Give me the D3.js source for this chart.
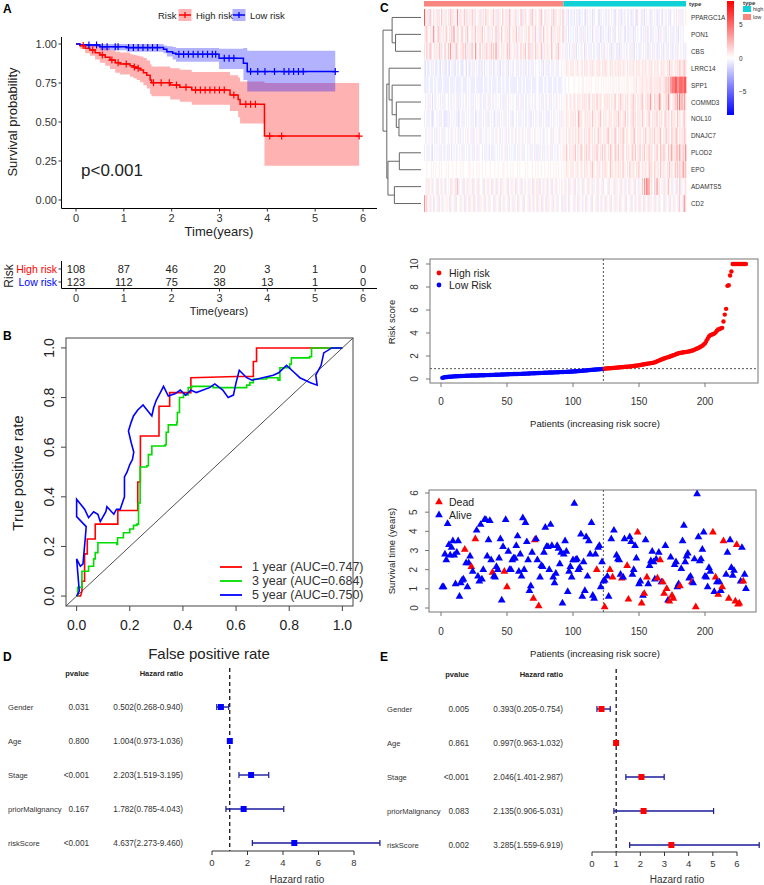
<!DOCTYPE html>
<html><head><meta charset="utf-8">
<script src="https://cdn.jsdelivr.net/npm/d3@7"></script>
<style>body{margin:0;background:#fff}svg{display:block}text{font-family:"Liberation Sans",Arial,Helvetica,sans-serif}</style>
</head><body>
<svg id="c" width="764" height="885"></svg>
<script>
// ---------------- DATA ----------------
// Panel A: Kaplan-Meier
const kmHighT  = [0,0.08,0.19,0.29,0.40,0.50,0.61,0.71,0.82,0.92,1.13,1.20,1.27,1.34,1.41,1.48,1.55,1.58,1.97,2.17,2.42,3.22,3.39,3.43,3.94,5.92];
const kmHighS  = [1,0.99,0.972,0.962,0.944,0.93,0.915,0.897,0.88,0.872,0.86,0.852,0.844,0.833,0.816,0.80,0.769,0.752,0.737,0.722,0.705,0.673,0.645,0.613,0.41,0.41];
const kmHighLo = [1,0.97,0.94,0.925,0.90,0.88,0.86,0.84,0.815,0.805,0.79,0.78,0.77,0.755,0.735,0.715,0.68,0.665,0.645,0.63,0.61,0.57,0.53,0.49,0.22,0.22];
const kmHighUp = [1,1,1,1,0.99,0.985,0.975,0.96,0.95,0.945,0.935,0.93,0.925,0.92,0.91,0.895,0.87,0.855,0.845,0.835,0.82,0.80,0.785,0.76,0.75,0.75];
const kmHighCens = [0.15,0.35,0.55,0.75,0.88,1.05,1.22,1.30,1.62,1.78,1.95,2.10,2.30,2.50,2.60,2.70,2.80,2.90,3.00,3.10,3.30,3.55,3.65,3.75,4.05,4.30,5.92];
const kmLowT   = [0,0.08,0.50,1.06,1.83,1.90,2.02,2.09,2.99,3.50,3.58,5.42];
const kmLowS   = [1,0.994,0.983,0.977,0.966,0.951,0.94,0.934,0.908,0.876,0.823,0.823];
const kmLowLo  = [1,0.982,0.96,0.95,0.94,0.92,0.90,0.887,0.84,0.77,0.695,0.695];
const kmLowUp  = [1,1,1,1,0.99,0.985,0.98,0.975,0.97,0.975,0.957,0.957];
const kmLowCens = [0.27,0.43,0.55,0.65,0.82,0.88,1.10,1.20,1.30,1.40,1.50,1.60,1.70,2.15,2.25,2.35,2.45,2.55,2.65,2.75,2.85,2.92,3.10,3.20,3.30,3.65,3.80,3.95,4.15,4.35,4.45,4.55,4.65,4.75,5.42];
const kmTicksY = [0,0.25,0.5,0.75,1];
const kmTicksX = [0,1,2,3,4,5,6];
const riskHigh = [108,87,46,20,3,1,0];
const riskLow  = [123,112,75,38,13,1,0];

// Panel B: ROC
const roc1 = [[0,0],[0.015,0],[0.02,0.02],[0.02,0.06],[0.03,0.06],[0.03,0.17],[0.04,0.17],[0.04,0.23],[0.07,0.23],[0.07,0.29],[0.155,0.29],[0.155,0.345],[0.23,0.345],[0.23,0.46],[0.24,0.46],[0.24,0.645],[0.31,0.645],[0.31,0.765],[0.35,0.765],[0.35,0.82],[0.43,0.82],[0.43,0.88],[0.5,0.882],[0.6,0.885],[0.665,0.885],[0.665,0.945],[0.677,0.945],[0.677,1.0],[1,1]];
const roc3 = [[0,0],[0.004,0],[0.004,0.035],[0.02,0.035],[0.02,0.1],[0.045,0.1],[0.045,0.12],[0.064,0.12],[0.064,0.15],[0.07,0.15],[0.07,0.175],[0.08,0.175],[0.08,0.215],[0.151,0.215],[0.151,0.208],[0.154,0.208],[0.154,0.235],[0.176,0.235],[0.176,0.255],[0.2,0.255],[0.2,0.27],[0.214,0.27],[0.214,0.285],[0.227,0.285],[0.227,0.29],[0.233,0.29],[0.233,0.375],[0.239,0.375],[0.239,0.52],[0.264,0.52],[0.264,0.525],[0.27,0.525],[0.27,0.57],[0.283,0.57],[0.283,0.605],[0.333,0.605],[0.333,0.61],[0.337,0.61],[0.337,0.66],[0.345,0.66],[0.345,0.69],[0.377,0.69],[0.377,0.7],[0.379,0.7],[0.379,0.74],[0.387,0.74],[0.387,0.8],[0.402,0.8],[0.402,0.81],[0.42,0.81],[0.42,0.84],[0.433,0.84],[0.433,0.845],[0.514,0.845],[0.514,0.84],[0.64,0.84],[0.64,0.85],[0.652,0.85],[0.652,0.86],[0.665,0.86],[0.665,0.875],[0.715,0.875],[0.715,0.88],[0.758,0.88],[0.758,0.87],[0.765,0.87],[0.765,0.92],[0.802,0.92],[0.802,0.935],[0.808,0.935],[0.808,0.96],[0.877,0.96],[0.877,0.965],[0.884,0.965],[0.884,1.0],[1,1]];
const roc5 = [[0,0],[0.01,0.02],[0,0.15],[0.014,0.12],[0.024,0.13],[0.033,0.24],[0.036,0.28],[0,0.32],[0,0.39],[0.03,0.35],[0.045,0.316],[0.064,0.34],[0.08,0.33],[0.089,0.30],[0.11,0.34],[0.114,0.36],[0.14,0.33],[0.15,0.35],[0.164,0.35],[0.18,0.40],[0.18,0.48],[0.19,0.50],[0.2,0.53],[0.21,0.55],[0.215,0.58],[0.205,0.62],[0.195,0.665],[0.205,0.70],[0.214,0.726],[0.23,0.75],[0.25,0.77],[0.265,0.75],[0.283,0.726],[0.29,0.76],[0.3,0.79],[0.315,0.82],[0.327,0.845],[0.345,0.806],[0.37,0.815],[0.39,0.83],[0.41,0.81],[0.43,0.83],[0.45,0.82],[0.5,0.84],[0.52,0.855],[0.55,0.83],[0.57,0.8],[0.59,0.81],[0.6,0.86],[0.612,0.91],[0.64,0.88],[0.66,0.87],[0.7,0.88],[0.74,0.89],[0.76,0.9],[0.79,0.93],[0.82,0.9],[0.84,0.88],[0.88,0.86],[0.905,0.85],[0.9,0.89],[0.92,0.93],[0.93,0.98],[0.96,1.0],[1,1]];
const rocNames = ["1 year (AUC=0.747)","3 year (AUC=0.684)","5 year (AUC=0.750)"];
const rocColors = ["#ff0000","#00dd00","#0000ff"];
const rocTicks = [0,0.2,0.4,0.6,0.8,1.0];

// Panel C: heatmap
const geneNames = ["PPARGC1A","PON1","CBS","LRRC14","SPP1","COMMD3","NOL10","DNAJC7","PLOD2","EPO","ADAMTS5","CD2"];
const exprLevels = [-2.5,-1.5,-1.0,-0.6,0,0.5,1.0,2.0,3.6,5.5]; // digit code -> expression z value
const geneRows = [
"9556375465 5636475356 4657365548 5365475635 6475364556 3564756455 5746365547 4565376455 6355476356 5456375465 4637546355 5463756455 6473435243 3424353243 4325343425 3443253434 2435434325 4353243543 3425343264 4335243453 3543425343 2453435244 3464353534 5",
"5675465386 4576355647 5465738456 6457546375 4565374656 5746456355 6457365475 4656375465 5746356455 6475465374 5366475465 4575364656 5473534243 4343524335 3534243425 4353423534 3425343524 4353543243 3534253434 4243535243 3534342535 4352434353 3435243434 4",
"6475376456 5647365475 4758465376 5465747365 6375486457 4656374657 5748365465 6457375546 5365474657 4576365475 6457356465 5476456375 5464353424 3535243435 4253435343 3435243536 4343525343 3525343435 4353524343 3543435253 4353425343 5243534352 4353543435 3",
"3242343534 2343243532 4324353243 3432345243 2435343425 3342434353 4234353243 3435243424 4353424353 3424353434 4343524353 3435343534 4345465546 5645565456 4656546565 5465654656 6545656465 5656465546 4655654656 5465565465 6546556456 5654657565 4656576567 6",
"3333433343 3433334333 3343333433 3334333343 4333343333 3343334334 3333433343 3433343333 3343334334 3333433334 4333343343 3334333433 3344344544 4454445445 5445454544 4545445454 5454545545 4554545455 5454555645 5565556556 6556565665 5667676889 8998899989 9",
"4343534243 3454343534 4345343453 3534345343 4353434543 3435343534 5343454343 3534345434 4353435343 3435434534 4343534354 3534343545 4345465456 4565465646 5656475465 6475565456 5656465575 4657564656 5465756465 5675465748 6547565875 4657586546 5768596858 6",
"3435343234 4343534323 3534343435 2343534343 4353423435 3434353343 4324353434 3534343524 4343534343 3435243435 4353434353 3434354343 5355465546 5656458565 4565656475 5646575465 6456564656 5756465746 5465756465 6475546575 4656574656 5476565475 6547565467 5",
"4354345343 5343453534 4345354345 3534345435 4353543453 3454354345 5343545343 4534354354 3545343545 4353454354 5434535434 4535345453 5455464565 5646557465 4656475564 6547565465 5675465576 4656576465 5465675465 6546575466 5657465675 4657565476 5676465657 6",
"3435343243 4343534334 3534243435 4343534343 3435343534 4343534243 3534343435 4353434343 3435343534 4343534353 3534353435 4353434354 5456475465 5657465576 4657475465 6576465747 5465765476 5746575465 6547657465 7465746575 6546575476 5765475685 6577586575 8",
"4454445454 5445454445 4544454454 4454544445 5445445454 4544544454 4454454445 5445445454 4454544445 4544454454 5445445445 4544545454 4545465546 5645565465 4656546575 5465654656 6545756465 5656475546 4755654657 5465565476 6547556475 5654657565 4757576586 7",
"4535645354 5364535463 4546354637 3545364535 5463545364 4536453546 3546354635 5453645354 6354536453 4535463546 5364535463 4536453545 4645354635 4536453546 3545364535 5463545364 4536454635 5453645354 6354536453 5475869784 6547385645 5364575463 4536473545 6",
"8574535463 4536453545 5463545364 4535463546 3546354635 5453645354 4635453645 3545364535 5463545364 4536453546 3546354635 5453645354 4635354634 4535463543 5463545364 4536453546 3545364535 5463545364 4536453546 3546354635 5453645354 4635453645 3545374538 6"
];
const nLow = 123, nHigh = 108;
// dendrogram merges: [childA, childB, height]; leaves are "L#", merges "M#"
const dendroMerges = [["L1","L2",6.7],["L0","M0",7.6],["L6","L7",5.8],["L5","M2",6.5],["L4","M3",7.6],["L3","M4",8.4],["L8","L9",5.7],["L10","L11",7.0],["M6","M7",8.7],["M5","M8",9.0],["M1","M9",10]];

// Risk score curve
const riskScores = [
0.10,0.13,0.15,0.17,0.18,0.19,0.20,0.21,0.22,0.23,
0.24,0.24,0.25,0.25,0.26,0.26,0.27,0.27,0.28,0.28,
0.29,0.29,0.30,0.30,0.30,0.31,0.31,0.31,0.32,0.32,
0.32,0.33,0.33,0.34,0.34,0.34,0.35,0.35,0.36,0.36,
0.37,0.37,0.37,0.38,0.38,0.39,0.39,0.40,0.40,0.41,
0.41,0.42,0.42,0.42,0.43,0.43,0.44,0.44,0.45,0.45,
0.45,0.46,0.46,0.47,0.47,0.48,0.48,0.49,0.49,0.50,
0.50,0.51,0.51,0.52,0.52,0.53,0.53,0.54,0.54,0.55,
0.55,0.56,0.56,0.57,0.57,0.58,0.58,0.59,0.59,0.60,
0.60,0.61,0.61,0.62,0.62,0.63,0.63,0.64,0.65,0.65,
0.66,0.67,0.68,0.69,0.70,0.71,0.72,0.73,0.74,0.75,
0.76,0.77,0.78,0.79,0.80,0.81,0.82,0.83,0.84,0.85,
0.86,0.87,0.88,
0.90,0.91,0.92,0.93,0.94,0.95,0.96,
0.97,0.98,0.99,1.00,1.01,1.02,1.03,1.04,1.05,1.06,
1.07,1.08,1.09,1.10,1.12,1.13,1.15,1.16,1.18,1.20,
1.22,1.24,1.26,1.28,1.30,1.32,1.34,1.36,1.38,1.40,
1.42,1.45,1.50,1.55,1.60,1.65,1.70,1.74,1.78,1.82,
1.86,1.90,1.94,1.98,2.02,2.06,2.10,2.15,2.20,2.24,
2.26,2.28,2.30,2.32,2.34,2.36,2.38,2.40,2.43,2.46,
2.50,2.55,2.60,2.65,2.70,2.76,2.82,2.90,3.00,3.10,
3.30,3.50,3.70,3.80,3.85,3.90,3.95,4.05,4.20,4.30,
4.35,4.40,4.45,5.00,5.60,6.10,8.10,8.15,9.00,9.35,
10,10,10,10,10,10,10,10,10,10,10];
const riskCutoff = 0.9;

// Survival status scatter: [patient, years, dead(1)/alive(0)]
const survPoints = [
[1,1.1,0],[2,1.1,0],[3,2.8,0],[4,2.5,0],[5,4.4,0],[6,3.3,0],[7,2.75,0],[8,3.15,0],[9,3.5,0],[10,2.75,0],[11,1.25,0],[12,2.9,0],[13,3.5,0],[14,0.6,0],[15,1.3,0],[16,1.45,0],[17,1.5,0],[18,3.05,1],[19,2.35,0],[20,1.1,0],[21,2.35,0],[22,2.7,0],[23,2.15,1],[24,1.9,0],[26,3.6,1],[27,4.05,0],[28,1.65,0],[29,1.4,0],[30,4.35,0],[31,1.5,0],[32,2.0,0],[33,4.6,0],[34,4.6,0],[35,2.7,0],[36,3.55,0],[37,4.55,0],[38,2.5,0],[39,1.85,1],[40,1.65,0],[41,1.6,0],[42,2.15,0],[43,2.0,0],[44,2.6,0],[45,3.6,0],[46,0.4,0],[47,3.2,0],[48,1.9,1],[49,4.6,0],[50,1.1,1],[51,2.95,0],[52,2.0,0],[53,2.0,0],[54,2.5,0],[55,2.6,0],[56,2.6,0],[57,3.25,0],[58,3.75,0],[59,1.9,0],[60,2.8,0],[61,1.65,0],[62,4.7,0],[63,2.0,0],[64,4.45,0],[65,3.45,0],[66,2.5,0],[67,0.9,0],[68,1.15,0],[69,2.9,0],[70,0.5,1],[71,3.55,1],[72,3.6,0],[73,2.5,0],[74,0.1,1],[75,1.6,0],[76,2.2,0],[77,2.15,0],[78,2.9,0],[79,4.2,0],[80,3.2,0],[81,3.2,0],[82,2.0,0],[83,4.35,0],[84,3.25,0],[85,1.6,0],[86,1.3,0],[87,1.8,0],[88,3.25,0],[89,3.1,0],[90,2.3,0],[91,2.9,0],[92,0.25,0],[93,2.8,0],[94,3.5,0],[95,2.95,0],[96,0.85,0],[97,1.9,0],[98,2.15,0],[99,1.6,0],[100,2.5,0],[101,5.45,0],[102,2.5,0],[103,2.55,0],[104,2.0,0],[105,2.1,0],[106,3.85,0],[107,0.6,0],[108,2.4,0],[109,0.9,0],[110,3.7,0],[111,1.65,0],[112,3.5,0],[113,2.8,0],[114,4.45,0],[115,0.65,0],[116,0.5,0],[117,2.8,0],[118,2.0,1],[119,3.15,0],[120,3.25,0],[121,1.1,0],[122,2.4,0],[123,1.4,0],
[124,1.45,0],[124,0.05,1],[126,1.65,0],[127,0.6,0],[128,2.0,1],[129,3.6,0],[130,1.6,1],[131,4.05,0],[133,2.75,0],[134,2.55,0],[135,2.5,0],[136,1.75,0],[137,1.55,1],[138,1.6,0],[139,3.6,0],[141,2.2,1],[142,0.45,1],[143,3.7,0],[144,3.45,0],[145,1.75,0],[146,2.0,0],[147,3.25,0],[148,2.6,0],[149,3.95,1],[150,1.25,0],[151,1.4,0],[152,0.25,1],[153,0.65,0],[154,0.75,1],[155,3.55,0],[156,1.6,1],[157,1.25,0],[158,2.2,0],[159,2.45,0],[160,2.95,0],[161,2.4,0],[162,1.5,0],[163,2.55,0],[164,1.55,1],[165,2.9,0],[166,2.5,1],[167,1.35,0],[168,1.35,1],[169,0.75,1],[170,3.25,0],[171,1.0,1],[172,0.4,0],[173,0.35,1],[174,2.65,0],[175,0.65,1],[176,0.5,1],[177,2.25,0],[178,2.4,0],[179,1.1,0],[180,1.25,0],[181,1.15,1],[182,2.05,0],[183,3.5,0],[184,4.3,0],[185,2.4,0],[186,2.7,0],[187,2.85,0],[188,1.55,0],[189,1.65,0],[190,1.35,1],[191,1.3,0],[192,2.55,0],[193,0.05,1],[194,5.95,0],[195,3.7,0],[196,2.45,0],[197,2.55,0],[198,3.05,0],[199,3.95,0],[200,1.65,0],[201,1.6,0],[202,1.1,0],[203,2.1,0],[204,1.9,0],[206,3.95,1],[207,0.85,0],[208,1.6,1],[209,1.35,0],[210,0.7,1],[211,1.35,0],[212,0.9,0],[213,1.1,1],[214,3.5,1],[216,1.75,0],[217,2.9,0],[218,0.5,1],[219,3.55,0],[220,2.1,0],[221,1.7,0],[222,1.95,0],[223,0.35,1],[224,3.3,1],[225,0.2,1],[226,0.25,1],[227,1.4,0],[228,3.15,0],[229,1.4,1],[230,1.75,0],[231,1.0,0]];

// Panels D/E: forest plots
const fLabels = ["Gender","Age","Stage","priorMalignancy","riskScore"];
const uniP  = ["0.031","0.800","<0.001","0.167","<0.001"];
const uniHR = [0.502,1.004,2.203,1.782,4.637];
const uniLo = [0.268,0.973,1.519,0.785,2.273];
const uniHi = [0.940,1.036,3.195,4.043,9.460];
const multiP  = ["0.005","0.861","<0.001","0.083","0.002"];
const multiHR = [0.393,0.997,2.046,2.135,3.285];
const multiLo = [0.205,0.963,1.401,0.906,1.559];
const multiHi = [0.754,1.032,2.987,5.031,6.919];

// ---------------- DRAW ----------------
const svg = d3.select("#c");
function T(g,x,y,s,o={}){
  const t = g.append("text").attr("x",x).attr("y",y).text(s)
    .attr("font-size",o.size||10).attr("fill",o.fill||"#222")
    .attr("text-anchor",o.anchor||"start").attr("dominant-baseline",o.base||"central");
  if(o.weight) t.attr("font-weight",o.weight);
  if(o.rot) t.attr("transform",`rotate(${o.rot},${x},${y})`);
  return t;
}
// panel letters
[["A",3,9],["B",3,336],["C",380,8],["D",3,657],["E",380,657]].forEach(([l,x,y])=>T(svg,x,y,l,{size:12,weight:"bold",fill:"#000"}));

// ===== Panel A =====
{
  const g = svg.append("g");
  const x = d3.scaleLinear([0,6],[76,363]);
  const y = d3.scaleLinear([0,1],[200,44]);
  const area = (T_,L,U)=>d3.area().curve(d3.curveStepAfter).x((d,i)=>x(T_[i])).y0((d,i)=>y(L[i])).y1((d,i)=>y(U[i]))(T_);
  g.append("path").attr("d",area(kmHighT,kmHighLo,kmHighUp)).attr("fill","#ff0000").attr("opacity",0.3);
  g.append("path").attr("d",area(kmLowT,kmLowLo,kmLowUp)).attr("fill","#0000ff").attr("opacity",0.3);
  const line = (T_,S)=>d3.line().curve(d3.curveStepAfter).x((d,i)=>x(T_[i])).y((d,i)=>y(S[i]))(T_);
  const plus = (T_,S,C,col)=>{
    C.forEach(t=>{const i=d3.bisectRight(T_,t)-1; const px=x(t), py=y(S[Math.max(0,i)]);
      g.append("path").attr("d",`M${px-3.5},${py}H${px+3.5}M${px},${py-3.5}V${py+3.5}`).attr("stroke",col).attr("stroke-width",1.2);});
  };
  g.append("path").attr("d",line(kmHighT,kmHighS)).attr("fill","none").attr("stroke","#ff0000").attr("stroke-width",1.5);
  g.append("path").attr("d",line(kmLowT,kmLowS)).attr("fill","none").attr("stroke","#0000ff").attr("stroke-width",1.5);
  plus(kmHighT,kmHighS,kmHighCens,"#ff0000");
  plus(kmLowT,kmLowS,kmLowCens,"#0000ff");
  // axes
  g.append("line").attr("x1",61.5).attr("x2",61.5).attr("y1",37).attr("y2",208.5).attr("stroke","#000");
  g.append("line").attr("x1",61.5).attr("x2",377).attr("y1",208.5).attr("y2",208.5).attr("stroke","#000");
  kmTicksY.forEach(v=>{g.append("line").attr("x1",58.5).attr("x2",61.5).attr("y1",y(v)).attr("y2",y(v)).attr("stroke","#333");
    T(g,57,y(v),d3.format(".2f")(v),{size:11,anchor:"end",fill:"#333"});});
  kmTicksX.forEach(v=>{g.append("line").attr("x1",x(v)).attr("x2",x(v)).attr("y1",208.5).attr("y2",211.5).attr("stroke","#333");
    T(g,x(v),218,v,{size:11,anchor:"middle",fill:"#333"});});
  T(g,12,122,"Survival probability",{size:13,anchor:"middle",rot:-90});
  T(g,219,231,"Time(years)",{size:13,anchor:"middle"});
  T(g,81,170,"p<0.001",{size:17});
  // legend
  T(g,158,15,"Risk",{size:9.5});
  g.append("rect").attr("x",178.5).attr("y",9).attr("width",13).attr("height",12).attr("fill","#ff0000").attr("opacity",0.3);
  g.append("path").attr("d","M179,15H191M185,12V18").attr("stroke","#ff0000").attr("stroke-width",1.3);
  T(g,196,15,"High risk",{size:9.5});
  g.append("rect").attr("x",232.5).attr("y",9).attr("width",13).attr("height",12).attr("fill","#0000ff").attr("opacity",0.3);
  g.append("path").attr("d","M233,15H245M239,12V18").attr("stroke","#0000ff").attr("stroke-width",1.3);
  T(g,250,15,"Low risk",{size:9.5});
  // risk table
  const ry = {high:269,low:282};
  riskHigh.forEach((v,i)=>T(g,x(kmTicksX[i]),ry.high,v,{size:11,anchor:"middle"}));
  riskLow.forEach((v,i)=>T(g,x(kmTicksX[i]),ry.low,v,{size:11,anchor:"middle"}));
  g.append("line").attr("x1",61.5).attr("x2",61.5).attr("y1",261).attr("y2",288.5).attr("stroke","#000");
  g.append("line").attr("x1",61.5).attr("x2",377).attr("y1",288.5).attr("y2",288.5).attr("stroke","#000");
  [ry.high,ry.low].forEach(v=>g.append("line").attr("x1",58.5).attr("x2",61.5).attr("y1",v).attr("y2",v).attr("stroke","#333"));
  kmTicksX.forEach(v=>{g.append("line").attr("x1",x(v)).attr("x2",x(v)).attr("y1",288.5).attr("y2",291.5).attr("stroke","#333");
    T(g,x(v),298,v,{size:11,anchor:"middle",fill:"#333"});});
  T(g,57,ry.high,"High risk",{size:10.5,anchor:"end",fill:"#ff0000"});
  T(g,57,ry.low,"Low risk",{size:10.5,anchor:"end",fill:"#0000ff"});
  T(g,9,276,"Risk",{size:12,anchor:"middle",rot:-90});
  T(g,219,311,"Time(years)",{size:11,anchor:"middle"});
}

// ===== Panel B =====
{
  const g = svg.append("g");
  const x = d3.scaleLinear([-0.04,1.04],[66,353]);
  const y = d3.scaleLinear([-0.04,1.04],[606,338]);
  g.append("line").attr("x1",x(-0.04)).attr("y1",y(-0.04)).attr("x2",x(1.04)).attr("y2",y(1.04)).attr("stroke","#222").attr("stroke-width",0.8);
  [roc1,roc3,roc5].forEach((r,i)=>{
    g.append("path").attr("d",d3.line().x(d=>x(d[0])).y(d=>y(d[1]))(r)).attr("fill","none").attr("stroke",rocColors[i]).attr("stroke-width",1.6);
  });
  g.append("rect").attr("x",66).attr("y",338).attr("width",287).attr("height",268).attr("fill","none").attr("stroke","#444");
  rocTicks.forEach(v=>{
    g.append("line").attr("x1",x(v)).attr("x2",x(v)).attr("y1",606).attr("y2",611).attr("stroke","#444");
    T(g,x(v),625,v.toFixed(1),{size:14,anchor:"middle"});
    g.append("line").attr("x1",61).attr("x2",66).attr("y1",y(v)).attr("y2",y(v)).attr("stroke","#444");
    T(g,49,y(v),v.toFixed(1),{size:14,anchor:"middle",rot:-90});
  });
  T(g,17,473,"True positive rate",{size:15,anchor:"middle",rot:-90});
  T(g,209,653,"False positive rate",{size:15,anchor:"middle"});
  rocNames.forEach((n,i)=>{
    const yy = 567+i*14;
    g.append("line").attr("x1",220).attr("x2",242).attr("y1",yy).attr("y2",yy).attr("stroke",rocColors[i]).attr("stroke-width",1.8);
    T(g,252,yy,n,{size:12.5,fill:"#333"});
  });
}

// ===== Panel C: heatmap =====
{
  const g = svg.append("g");
  const nCols = nLow+nHigh;
  const hx = d3.scaleBand().domain(d3.range(nCols)).range([424,686]);
  const hy = d3.scaleBand().domain(geneNames).range([9,212]);
  const hcol = d3.scaleLinear().domain([-8.5,0,8.5]).range(["#0000ff","#ffffff","#ff0000"]);
  geneRows.forEach((s,r)=>{
    const vals = s.replace(/ /g,"").split("").map(c=>exprLevels[+c]);
    g.append("g").selectAll("rect").data(vals).join("rect")
      .attr("x",(d,i)=>hx(i)).attr("y",hy(geneNames[r])).attr("width",hx.bandwidth()+0.35).attr("height",hy.bandwidth())
      .attr("fill",d=>hcol(d));
    T(g,691,hy(geneNames[r])+hy.bandwidth()/2,geneNames[r],{size:6.4,fill:"#333"});
  });
  // annotation bar
  g.append("rect").attr("x",hx(0)).attr("y",1).attr("width",hx(nLow)-hx(0)).attr("height",5.5).attr("fill","#f7877f");
  g.append("rect").attr("x",hx(nLow)).attr("y",1).attr("width",686-hx(nLow)).attr("height",5.5).attr("fill","#10d2d6");
  T(g,689,4,"type",{size:6,fill:"#333",weight:"bold"});
  // dendrogram
  const dx = d3.scaleLinear([0,10],[421,383]);
  const nodes = {};
  geneNames.forEach((n,i)=>nodes["L"+i]={y:hy(n)+hy.bandwidth()/2,h:0});
  dendroMerges.forEach(([a,b,h],i)=>{
    const A=nodes[a],B=nodes[b];
    const path = `M${dx(A.h)},${A.y}H${dx(h)}V${B.y}H${dx(B.h)}`;
    g.append("path").attr("d",path).attr("fill","none").attr("stroke","#555").attr("stroke-width",0.9);
    nodes["M"+i]={y:(A.y+B.y)/2,h:h};
  });
  // legends
  T(g,743,3,"type",{size:6,fill:"#333",weight:"bold"});
  g.append("rect").attr("x",743).attr("y",6).attr("width",8).attr("height",6).attr("fill","#10d2d6");
  T(g,753,9,"high",{size:5.5,fill:"#333"});
  g.append("rect").attr("x",743).attr("y",14).attr("width",8).attr("height",6).attr("fill","#f7877f");
  T(g,753,17,"low",{size:5.5,fill:"#333"});
  const grad = svg.append("defs").append("linearGradient").attr("id","hg").attr("x1",0).attr("x2",0).attr("y1",0).attr("y2",1);
  grad.append("stop").attr("offset","0%").attr("stop-color","#ff0000");
  grad.append("stop").attr("offset","50%").attr("stop-color","#ffffff");
  grad.append("stop").attr("offset","100%").attr("stop-color","#0000ff");
  const cy = d3.scaleLinear([-8.5,8.5],[115,1]);
  g.append("rect").attr("x",727).attr("y",cy(8.5)).attr("width",7).attr("height",cy(-8.5)-cy(8.5)).attr("fill","url(#hg)");
  [5,0,-5].forEach(v=>T(g,739,cy(v),v<0?"−"+(-v):v,{size:6.5,fill:"#333"}));
}

// ===== Risk score plot =====
{
  const g = svg.append("g");
  const x = d3.scaleLinear([0,200],[441,705]);
  const y = d3.scaleLinear([0,10],[379,264]);
  g.append("rect").attr("x",430).attr("y",259).attr("width",328).attr("height",124).attr("fill","none").attr("stroke","#777");
  g.append("line").attr("x1",x(nLow)).attr("x2",x(nLow)).attr("y1",259).attr("y2",383).attr("stroke","#555").attr("stroke-dasharray","2,2");
  g.append("line").attr("x1",430).attr("x2",758).attr("y1",y(riskCutoff)).attr("y2",y(riskCutoff)).attr("stroke","#555").attr("stroke-dasharray","2,2");
  g.selectAll("circle.rs").data(riskScores).join("circle").attr("class","rs")
    .attr("cx",(d,i)=>x(i+1)).attr("cy",d=>y(d)).attr("r",2.2)
    .attr("fill",(d,i)=>i<nLow?"#0000ff":"#ff0000");
  [0,50,100,150,200].forEach(v=>{g.append("line").attr("x1",x(v)).attr("x2",x(v)).attr("y1",383).attr("y2",387).attr("stroke","#777");
    T(g,x(v),401,v,{size:10,anchor:"middle",fill:"#333"});});
  [0,2,4,6,8,10].forEach(v=>{g.append("line").attr("x1",426).attr("x2",430).attr("y1",y(v)).attr("y2",y(v)).attr("stroke","#777");
    T(g,414,y(v),v,{size:10,anchor:"middle",fill:"#333",rot:-90});});
  T(g,391,322,"Risk score",{size:9.5,anchor:"middle",rot:-90});
  T(g,595,423,"Patients (increasing risk socre)",{size:9.5,anchor:"middle"});
  g.append("circle").attr("cx",439).attr("cy",273).attr("r",2.4).attr("fill","#ff0000");
  T(g,449,273,"High risk",{size:10.5});
  g.append("circle").attr("cx",439).attr("cy",285).attr("r",2.4).attr("fill","#0000ff");
  T(g,449,285,"Low Risk",{size:10.5});
}

// ===== Survival status plot =====
{
  const g = svg.append("g");
  const x = d3.scaleLinear([0,200],[441,705]);
  const y = d3.scaleLinear([0,6],[608,493]);
  g.append("rect").attr("x",429).attr("y",490).attr("width",327).attr("height",122).attr("fill","none").attr("stroke","#777");
  g.append("line").attr("x1",x(nLow)).attr("x2",x(nLow)).attr("y1",490).attr("y2",612).attr("stroke","#555").attr("stroke-dasharray","2,2");
  const tri = d3.symbol(d3.symbolTriangle,26);
  g.selectAll("path.pt").data(survPoints).join("path").attr("class","pt").attr("d",tri)
    .attr("transform",d=>`translate(${x(d[0])},${y(d[1])})`).attr("fill",d=>d[2]?"#ff0000":"#0000ff");
  [0,50,100,150,200].forEach(v=>{g.append("line").attr("x1",x(v)).attr("x2",x(v)).attr("y1",612).attr("y2",616).attr("stroke","#777");
    T(g,x(v),631,v,{size:10,anchor:"middle",fill:"#333"});});
  [0,1,2,3,4,5,6].forEach(v=>{g.append("line").attr("x1",425).attr("x2",429).attr("y1",y(v)).attr("y2",y(v)).attr("stroke","#777");
    T(g,414,y(v),v,{size:10,anchor:"middle",fill:"#333",rot:-90});});
  T(g,391,551,"Survival time (years)",{size:9.5,anchor:"middle",rot:-90});
  T(g,595,653,"Patients (increasing risk socre)",{size:9.5,anchor:"middle"});
  g.append("path").attr("d",tri).attr("transform","translate(439,502)").attr("fill","#ff0000");
  T(g,449,502,"Dead",{size:10.5});
  g.append("path").attr("d",tri).attr("transform","translate(439,515)").attr("fill","#0000ff");
  T(g,449,515,"Alive",{size:10.5});
}

// ===== Forest plots =====
function forest(o){
  const g = svg.append("g");
  const x = d3.scaleLinear(o.dom,o.range);
  const y = d3.scalePoint(fLabels,o.rows);
  T(g,o.pX,o.headY,"pvalue",{size:7.5,anchor:"end",weight:"bold"});
  T(g,o.hrX,o.headY,"Hazard ratio",{size:7.5,anchor:"end",weight:"bold"});
  g.append("line").attr("x1",x(1)).attr("x2",x(1)).attr("y1",o.headY-5).attr("y2",o.axisY).attr("stroke","#000").attr("stroke-width",1.2).attr("stroke-dasharray","4,3");
  fLabels.forEach((l,i)=>{
    const yy = y(l);
    T(g,o.labX,yy,l,{size:7.6,fill:"#333"});
    T(g,o.pX,yy,o.p[i],{size:8.2,anchor:"end",fill:"#333"});
    T(g,o.hrX,yy,`${o.hr[i].toFixed(3)}(${o.lo[i].toFixed(3)}-${o.hi[i].toFixed(3)})`,{size:8.2,anchor:"end",fill:"#333"});
    const x1 = x(o.lo[i]), x2 = Math.min(x(o.hi[i]),o.clip);
    g.append("line").attr("x1",x1).attr("x2",x2).attr("y1",yy).attr("y2",yy).attr("stroke","#1a1a9a").attr("stroke-width",1.4);
    g.append("line").attr("x1",x1).attr("x2",x1).attr("y1",yy-3).attr("y2",yy+3).attr("stroke","#1a1a9a").attr("stroke-width",1.2);
    if(x(o.hi[i])<o.clip) g.append("line").attr("x1",x2).attr("x2",x2).attr("y1",yy-3).attr("y2",yy+3).attr("stroke","#1a1a9a").attr("stroke-width",1.2);
    g.append("rect").attr("x",x(o.hr[i])-3).attr("y",yy-3).attr("width",6).attr("height",6).attr("fill",o.col);
  });
  g.append("line").attr("x1",x(o.ticks[0])).attr("x2",x(o.ticks[o.ticks.length-1])).attr("y1",o.axisY).attr("y2",o.axisY).attr("stroke","#333");
  o.ticks.forEach(v=>{g.append("line").attr("x1",x(v)).attr("x2",x(v)).attr("y1",o.axisY).attr("y2",o.axisY+4).attr("stroke","#333");
    T(g,x(v),o.axisY+11,v,{size:9.5,anchor:"middle",fill:"#333"});});
  T(g,o.titleX,879,"Hazard ratio",{size:10,anchor:"middle",fill:"#333"});
}
forest({dom:[0,8],range:[212,354],rows:[707,843],headY:673,labX:8,pX:89,hrX:183,axisY:851,ticks:[0,2,4,6,8],clip:380,titleX:297,
  p:uniP,hr:uniHR,lo:uniLo,hi:uniHi,col:"#0000ff"});
forest({dom:[0,6],range:[592,737],rows:[709,845],headY:674,labX:387,pX:469,hrX:563,axisY:852,ticks:[0,1,2,3,4,5,6],clip:764,titleX:677,
  p:multiP,hr:multiHR,lo:multiLo,hi:multiHi,col:"#ff0000"});
</script>
</body></html>
